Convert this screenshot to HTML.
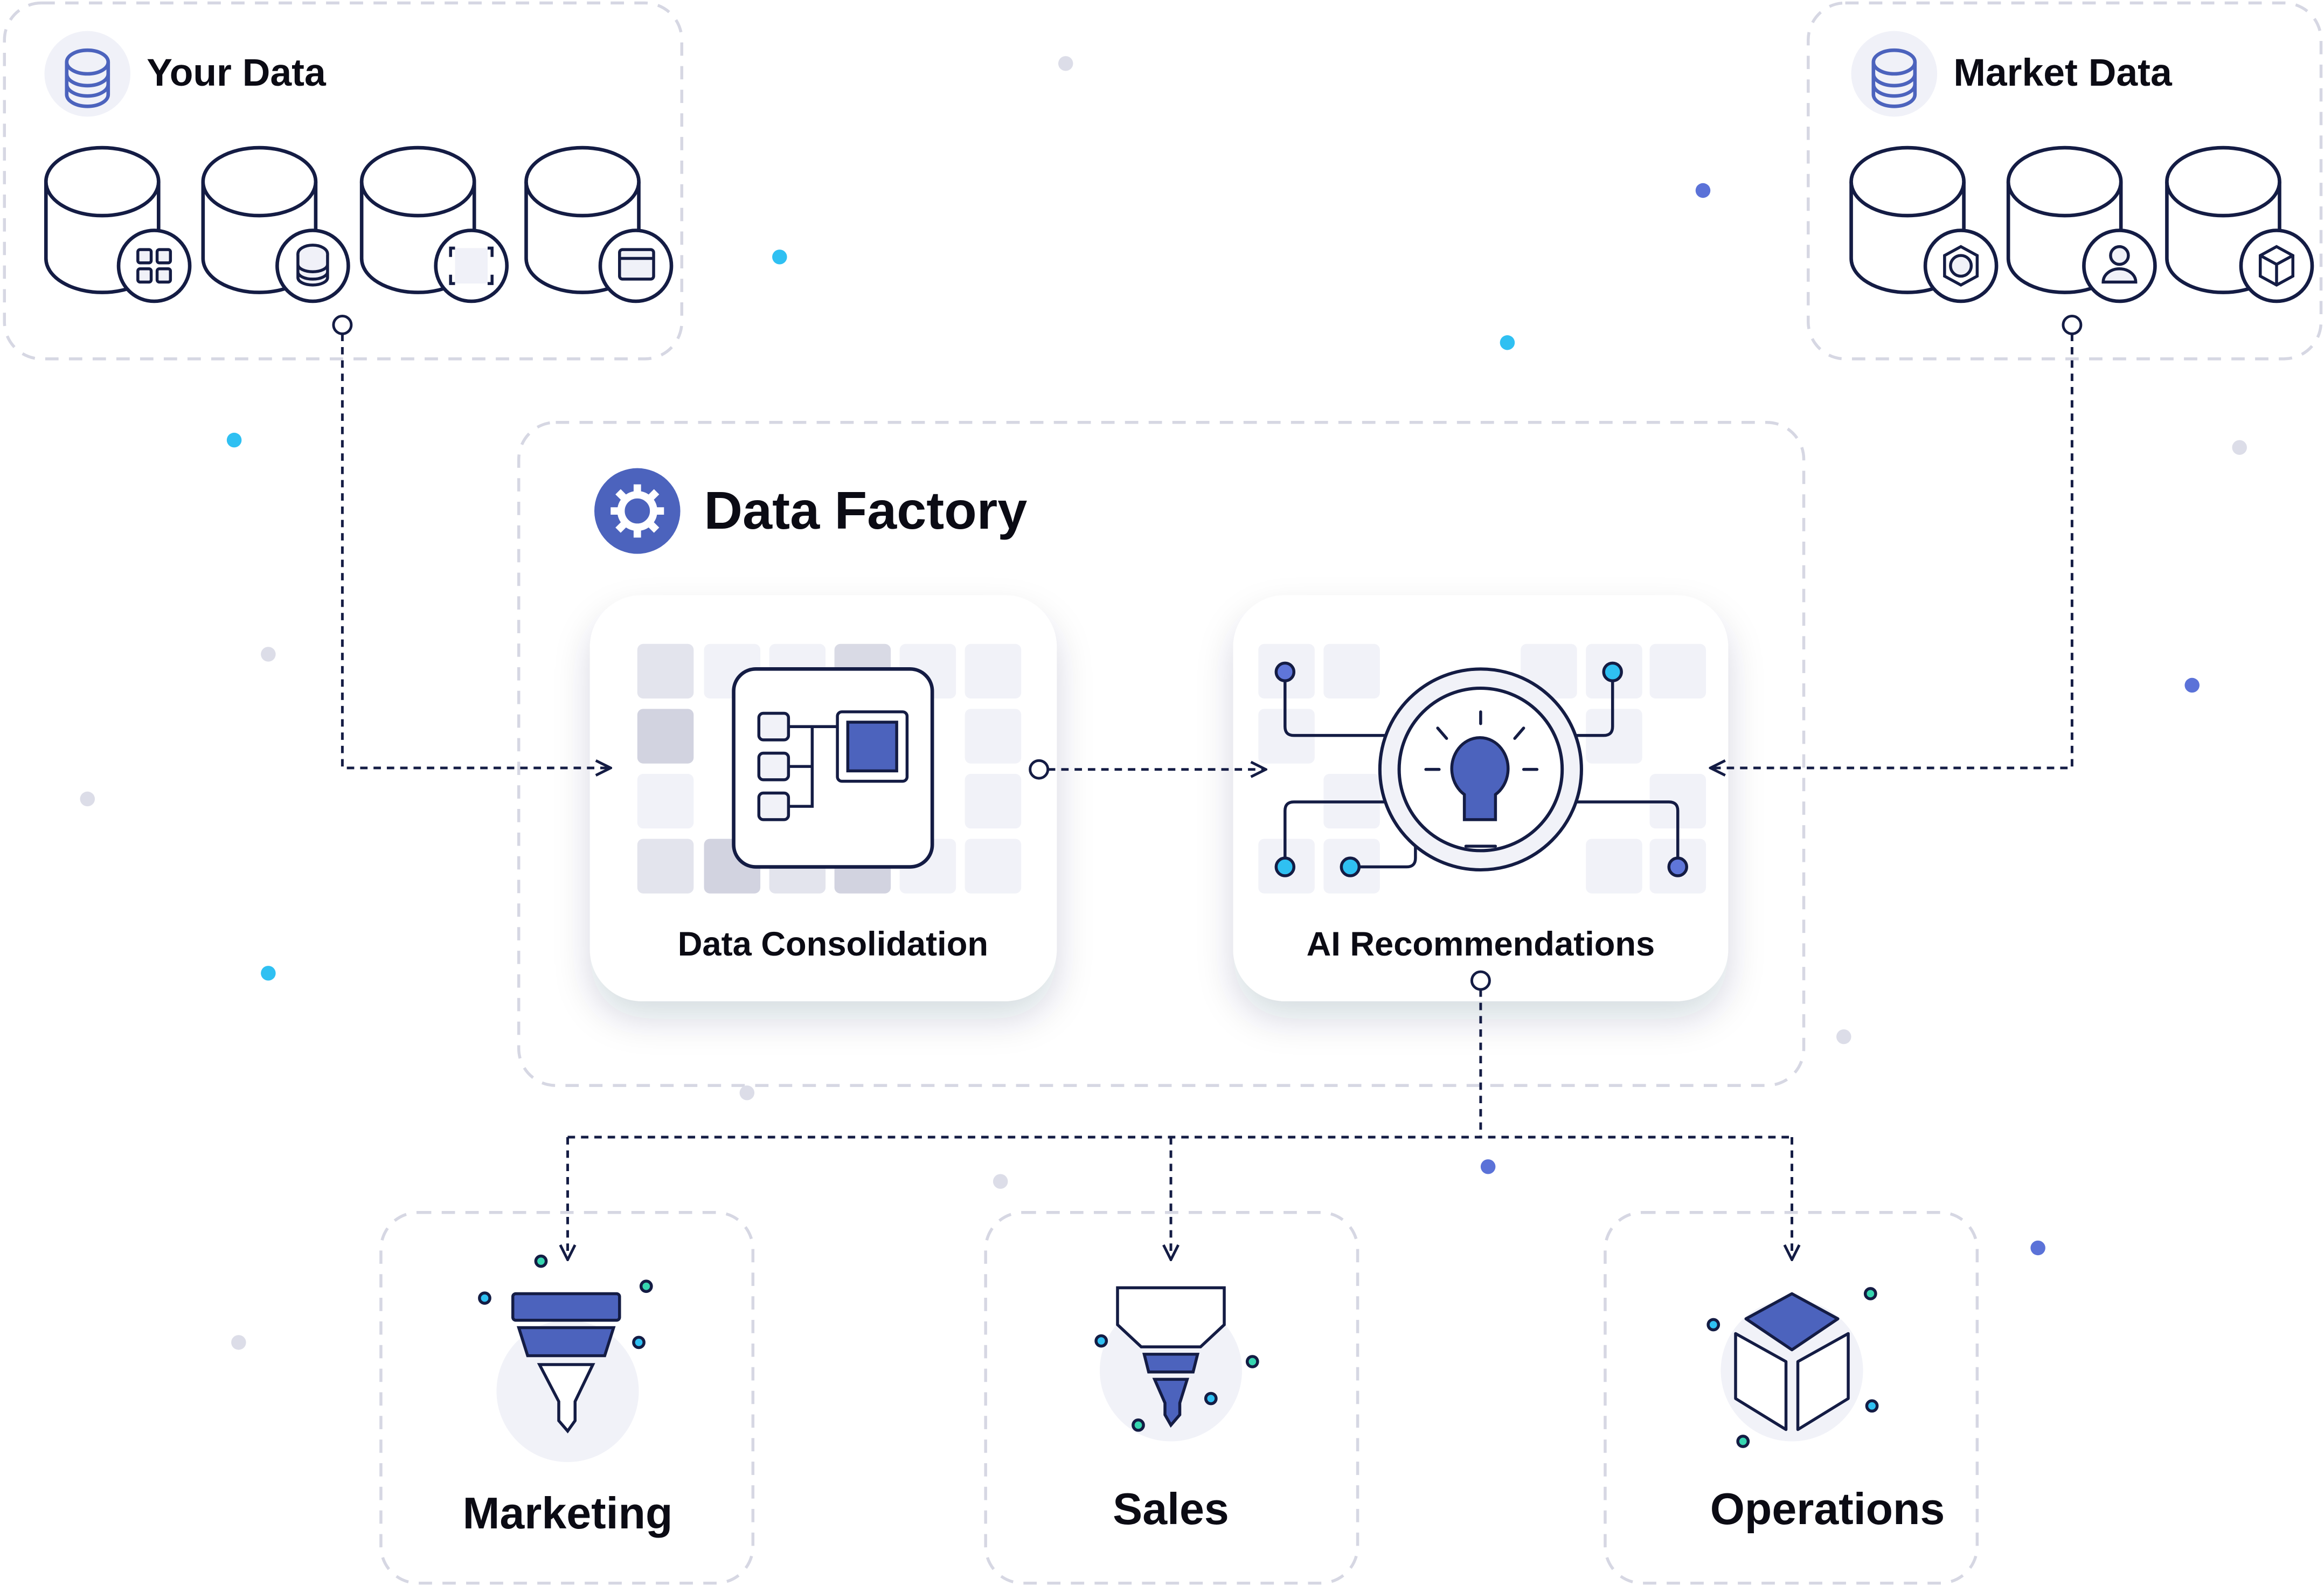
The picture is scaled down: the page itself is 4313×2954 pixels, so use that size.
<!DOCTYPE html>
<html><head><meta charset="utf-8"><style>
html,body{margin:0;padding:0;background:#fff;}
svg{display:block;}
text{font-family:"Liberation Sans",sans-serif;font-weight:bold;fill:#0b0b14;}
</style></head><body>
<svg width="4313" height="2954" viewBox="0 0 1568 1078" preserveAspectRatio="none" xmlns="http://www.w3.org/2000/svg">
<defs>
<filter id="sh" x="-30%" y="-30%" width="160%" height="170%"><feDropShadow dx="0" dy="12" stdDeviation="12" flood-color="#1b2150" flood-opacity="0.16"/></filter>
<marker id="ar" viewBox="0 0 12 12" refX="11" refY="6" markerWidth="12" markerHeight="12" markerUnits="userSpaceOnUse" orient="auto"><path d="M1,1 L11,6 L1,11" fill="none" stroke="#141c44" stroke-width="1.8"/></marker>
<g id="cyl">
<path d="M-38,0 V52 A38,23 0 0 0 38,52 V0" fill="#fff" stroke="#141c44" stroke-width="2.4"/>
<ellipse cx="0" cy="0" rx="38" ry="23" fill="#fff" stroke="#141c44" stroke-width="2.4"/>
</g>
</defs>
<g fill="none" stroke="#d6d7e3" stroke-width="2" stroke-dasharray="9 7">
<rect x="3" y="2" width="457" height="241" rx="25"/>
<rect x="1220" y="2" width="346" height="241" rx="25"/>
<rect x="350" y="286" width="867" height="449" rx="25"/>
<rect x="257" y="821" width="251" height="251" rx="25"/>
<rect x="665" y="821" width="251" height="251" rx="25"/>
<rect x="1083" y="821" width="251" height="251" rx="25"/>
</g>
<g>
<circle cx="719" cy="43" r="5" fill="#dcdde8"/><circle cx="526" cy="174" r="5" fill="#2fc0f2"/>
<circle cx="1149" cy="129" r="5" fill="#5b72d8"/><circle cx="1017" cy="232" r="5" fill="#2fc0f2"/>
<circle cx="158" cy="298" r="5" fill="#2fc0f2"/><circle cx="1511" cy="303" r="5" fill="#dcdde8"/>
<circle cx="181" cy="443" r="5" fill="#dcdde8"/><circle cx="59" cy="541" r="5" fill="#dcdde8"/>
<circle cx="1479" cy="464" r="5" fill="#5b72d8"/><circle cx="181" cy="659" r="5" fill="#2fc0f2"/>
<circle cx="1244" cy="702" r="5" fill="#dcdde8"/><circle cx="504" cy="740" r="5" fill="#dcdde8"/>
<circle cx="1004" cy="790" r="5" fill="#5b72d8"/><circle cx="675" cy="800" r="5" fill="#dcdde8"/>
<circle cx="1375" cy="845" r="5" fill="#5b72d8"/><circle cx="161" cy="909" r="5" fill="#dcdde8"/>
</g>
<circle cx="59" cy="50" r="29" fill="#f0f1f8"/>
<g fill="none" stroke="#4c63bd" stroke-width="2.4">
<ellipse cx="59" cy="42" rx="14" ry="8"/><path d="M45,42 V64 A14,8 0 0 0 73,64 V42"/><path d="M45,50 A14,8 0 0 0 73,50 M45,57 A14,8 0 0 0 73,57"/>
</g>
<text x="99" y="58" font-size="26">Your Data</text>
<circle cx="1278" cy="50" r="29" fill="#f0f1f8"/>
<g fill="none" stroke="#4c63bd" stroke-width="2.4">
<ellipse cx="1278" cy="42" rx="14" ry="8"/><path d="M1264,42 V64 A14,8 0 0 0 1292,64 V42"/><path d="M1264,50 A14,8 0 0 0 1292,50 M1264,57 A14,8 0 0 0 1292,57"/>
</g>
<text x="1318" y="58" font-size="26">Market Data</text>
<use href="#cyl" x="69" y="123"/><use href="#cyl" x="175" y="123"/><use href="#cyl" x="282" y="123"/><use href="#cyl" x="393" y="123"/>
<use href="#cyl" x="1287" y="123"/><use href="#cyl" x="1393" y="123"/><use href="#cyl" x="1500" y="123"/>
<g fill="#fff" stroke="#141c44" stroke-width="2.4">
<circle cx="104" cy="180" r="24"/><circle cx="211" cy="180" r="24"/><circle cx="318" cy="180" r="24"/><circle cx="429" cy="180" r="24"/>
<circle cx="1323" cy="180" r="24"/><circle cx="1430" cy="180" r="24"/><circle cx="1536" cy="180" r="24"/>
</g>
<g fill="#f0f1f8" stroke="#141c44" stroke-width="2">
<rect x="93" y="169" width="9" height="9" rx="1.5"/><rect x="106" y="169" width="9" height="9" rx="1.5"/><rect x="93" y="182" width="9" height="9" rx="1.5"/><rect x="106" y="182" width="9" height="9" rx="1.5"/>
<ellipse cx="211" cy="172" rx="10" ry="6"/><path d="M201,172 V188 A10,5 0 0 0 221,188 V172 M201,179 A10,5 0 0 0 221,179 M201,184 A10,5 0 0 0 221,184"/>
<rect x="418" y="169" width="23" height="20" rx="2"/><line x1="418" y1="175" x2="441" y2="175"/>
<circle cx="1323" cy="180" r="7"/><path d="M1323,167 L1334,173 L1334,187 L1323,193 L1312,187 L1312,173 Z" fill="none"/>
<circle cx="1430" cy="173" r="6"/><path d="M1419,191 A11,9 0 0 1 1441,191 Z"/>
<path d="M1536,167 L1547,173 L1547,187 L1536,193 L1525,187 L1525,173 Z M1525,173 L1536,179 L1547,173 M1536,179 V193" fill="none"/>
</g>
<rect x="307" y="168" width="22" height="24" fill="#f0f1f8"/>
<path d="M307,168 h-3 v6 M329,168 h3 v6 M307,192 h-3 v-6 M329,192 h3 v-6" fill="none" stroke="#141c44" stroke-width="2"/>
<circle cx="430" cy="346" r="29" fill="#4c63bd"/>
<circle cx="430" cy="346" r="11" fill="none" stroke="#fff" stroke-width="5"/>
<g stroke="#fff" stroke-width="5"><path d="M430,328 v6 M430,358 v6 M412,346 h6 M442,346 h6 M417,333 l4,4 M439,355 l4,4 M443,333 l-4,4 M421,355 l-4,4"/></g>
<text x="475" y="358" font-size="36">Data Factory</text>
<rect x="398" y="403" width="315" height="275" rx="35" fill="#fff" filter="url(#sh)"/>
<g fill="#f1f2f8">
<rect x="430" y="436" width="38" height="37" rx="4" fill="#e3e4ed"/><rect x="475" y="436" width="38" height="37" rx="4"/><rect x="519" y="436" width="38" height="37" rx="4"/><rect x="563" y="436" width="38" height="37" rx="4" fill="#d9dae5"/><rect x="607" y="436" width="38" height="37" rx="4"/><rect x="651" y="436" width="38" height="37" rx="4"/>
<rect x="430" y="480" width="38" height="37" rx="4" fill="#d2d3e0"/><rect x="651" y="480" width="38" height="37" rx="4"/>
<rect x="430" y="524" width="38" height="37" rx="4"/><rect x="651" y="524" width="38" height="37" rx="4"/>
<rect x="430" y="568" width="38" height="37" rx="4" fill="#e3e4ed"/><rect x="475" y="568" width="38" height="37" rx="4" fill="#d2d3e0"/><rect x="519" y="568" width="38" height="37" rx="4" fill="#e3e4ed"/><rect x="563" y="568" width="38" height="37" rx="4" fill="#d2d3e0"/><rect x="607" y="568" width="38" height="37" rx="4"/><rect x="651" y="568" width="38" height="37" rx="4"/>
</g>
<rect x="495" y="453" width="134" height="134" rx="15" fill="#fff" stroke="#141c44" stroke-width="2.4"/>
<g fill="#f1f2f8" stroke="#141c44" stroke-width="2">
<rect x="512" y="483" width="20" height="18" rx="3"/><rect x="512" y="510" width="20" height="18" rx="3"/><rect x="512" y="537" width="20" height="18" rx="3"/>
<rect x="565" y="482" width="47" height="47" rx="3" fill="#fff"/>
<rect x="572" y="489" width="33" height="33" fill="#4c63bd"/>
<path d="M532,492 H565 M532,519 H548 M532,546 H548 V492" fill="none"/>
</g>
<text x="562" y="647" font-size="23" text-anchor="middle">Data Consolidation</text>
<rect x="832" y="403" width="334" height="275" rx="35" fill="#fff" filter="url(#sh)"/>
<g fill="#f1f2f8">
<rect x="849" y="436" width="38" height="37" rx="4"/><rect x="893" y="436" width="38" height="37" rx="4"/><rect x="1026" y="436" width="38" height="37" rx="4"/><rect x="1070" y="436" width="38" height="37" rx="4"/><rect x="1113" y="436" width="38" height="37" rx="4"/>
<rect x="849" y="480" width="38" height="37" rx="4"/><rect x="1070" y="480" width="38" height="37" rx="4"/>
<rect x="893" y="524" width="38" height="37" rx="4"/><rect x="1113" y="524" width="38" height="37" rx="4"/>
<rect x="849" y="568" width="38" height="37" rx="4"/><rect x="893" y="568" width="38" height="37" rx="4"/><rect x="1070" y="568" width="38" height="37" rx="4"/><rect x="1113" y="568" width="38" height="37" rx="4"/>
</g>
<g fill="none" stroke="#141c44" stroke-width="2">
<path d="M867,455 V492 Q867,498 873,498 H935"/>
<path d="M1088,455 V492 Q1088,498 1082,498 H1063"/>
<path d="M867,587 V549 Q867,543 873,543 H935"/>
<path d="M911,587 H949 Q955,587 955,581 V570"/>
<path d="M1132,587 V549 Q1132,543 1126,543 H1063"/>
</g>
<circle cx="999" cy="521" r="68" fill="#f1f2f8" stroke="#141c44" stroke-width="2.2"/>
<circle cx="999" cy="521" r="55" fill="#fff" stroke="#141c44" stroke-width="2.2"/>
<g stroke="#141c44" stroke-width="2" stroke-linecap="round">
<path d="M999,482 v8 M970,493 l6,7 M1028,493 l-6,7 M962,521 h9 M1028,521 h9 M989,573 h20"/>
</g>
<path d="M988,538 V555 H1009 V538 A19,21 0 1 0 988,538 Z" fill="#4c63bd" stroke="#141c44" stroke-width="2"/>
<g stroke="#141c44" stroke-width="2">
<circle cx="867" cy="455" r="6" fill="#5f76d9"/><circle cx="1088" cy="455" r="6" fill="#2fc0f2"/>
<circle cx="867" cy="587" r="6" fill="#2fc0f2"/><circle cx="911" cy="587" r="6" fill="#2fc0f2"/><circle cx="1132" cy="587" r="6" fill="#5f76d9"/>
</g>
<text x="999" y="647" font-size="23" text-anchor="middle">AI Recommendations</text>
<!-- connectors on top -->
<g fill="none" stroke="#141c44" stroke-width="1.8" stroke-dasharray="5 4">
<path d="M231,226 V520 H412" marker-end="url(#ar)"/>
<path d="M1398,226 V520 H1154" marker-end="url(#ar)"/>
<path d="M707,521 H854" marker-end="url(#ar)"/>
<path d="M999,670 V770"/>
<path d="M383,770 H1209"/>
<path d="M383,770 V853" marker-end="url(#ar)"/>
<path d="M790,770 V853" marker-end="url(#ar)"/>
<path d="M1209,770 V853" marker-end="url(#ar)"/>
</g>
<g fill="#fff" stroke="#141c44" stroke-width="1.8">
<circle cx="231" cy="220" r="6"/><circle cx="1398" cy="220" r="6"/><circle cx="701" cy="521" r="6"/><circle cx="999" cy="664" r="6"/>
</g>
<circle cx="383" cy="942" r="48" fill="#f1f2f8"/>
<g stroke="#141c44" stroke-width="2">
<rect x="346" y="876" width="72" height="18" rx="2" fill="#4c63bd"/>
<path d="M350,899 H414 L408,918 H356 Z" fill="#4c63bd"/>
<path d="M364,924 H400 L388,949 V962 L383,969 L377,962 V949 Z" fill="#fff"/>
<circle cx="327" cy="879" r="3.5" fill="#2fc0f2"/><circle cx="365" cy="854" r="3.5" fill="#36d6b0"/><circle cx="436" cy="871" r="3.5" fill="#36d6b0"/><circle cx="431" cy="909" r="3.5" fill="#2fc0f2"/>
</g>
<text x="383" y="1035" font-size="30" text-anchor="middle">Marketing</text>
<circle cx="790" cy="928" r="48" fill="#f1f2f8"/>
<g stroke="#141c44" stroke-width="2">
<path d="M754,872 H826 V897 L810,912 H770 L754,897 Z" fill="#fff"/>
<path d="M772,917 H808 L805,929 H775 Z" fill="#4c63bd"/>
<path d="M779,934 H801 L796,950 V958 L790,965 L786,958 V950 Z" fill="#4c63bd"/>
<circle cx="743" cy="908" r="3.5" fill="#2fc0f2"/><circle cx="845" cy="922" r="3.5" fill="#36d6b0"/><circle cx="817" cy="947" r="3.5" fill="#2fc0f2"/><circle cx="768" cy="965" r="3.5" fill="#36d6b0"/>
</g>
<text x="790" y="1032" font-size="30" text-anchor="middle">Sales</text>
<circle cx="1209" cy="928" r="48" fill="#f1f2f8"/>
<g stroke="#141c44" stroke-width="2" stroke-linejoin="round">
<path d="M1209,876 L1240,893 L1209,914 L1178,893 Z" fill="#4c63bd"/>
<path d="M1171,903 L1205,922 V968 L1171,947 Z" fill="#fff"/>
<path d="M1247,903 L1213,922 V968 L1247,947 Z" fill="#fff"/>
<circle cx="1156" cy="897" r="3.5" fill="#2fc0f2"/><circle cx="1262" cy="876" r="3.5" fill="#36d6b0"/><circle cx="1263" cy="952" r="3.5" fill="#2fc0f2"/><circle cx="1176" cy="976" r="3.5" fill="#36d6b0"/>
</g>
<text x="1233" y="1032" font-size="30" text-anchor="middle">Operations</text>
</svg>
</body></html>
